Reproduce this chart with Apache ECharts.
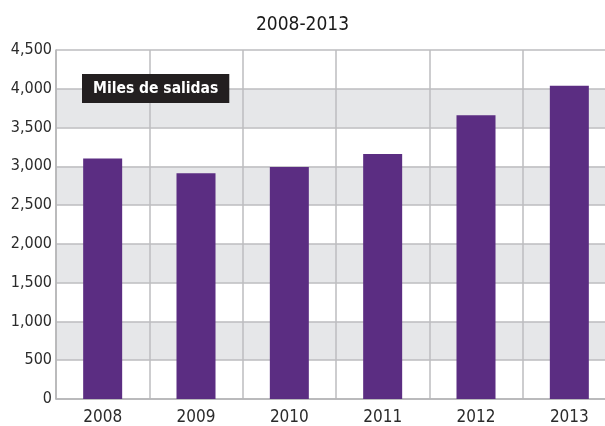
<!DOCTYPE html>
<html>
<head>
<meta charset="utf-8">
<script src="https://cdn.jsdelivr.net/npm/echarts@6/dist/echarts.min.js"></script>
<style>
  html, body { margin: 0; padding: 0; background: #fff; }
  #main { width: 605px; height: 426px; }
</style>
</head>
<body>
<div id="main"></div>
<script>
// datos del gráfico
var years = ['2008', '2009', '2010', '2011', '2012', '2013'];
var salidas = [3100, 2910, 2990, 3160, 3660, 4040];
var seriesName = 'Miles de salidas';
var chartTitle = '2008-2013';

var font = '"DejaVu Sans Condensed", "Liberation Sans Narrow", sans-serif';

var myChart = echarts.init(document.getElementById('main'));

var option = {
	animation: false,
	backgroundColor: '#ffffff',
	title: [{
		text: chartTitle,
		left: 'center',
		top: 11,
		textStyle: {
			fontFamily: font,
			fontSize: 19,
			fontWeight: 'normal',
			color: '#1a1a1a'
		}
	}, {
		// etiqueta negra
		text: seriesName,
		left: 82,
		top: 74,
		padding: [5, 11, 5, 11],
		backgroundColor: '#231f20',
		textStyle: {
			fontFamily: font,
			fontSize: 15.5,
			fontWeight: 'bold',
			color: '#ffffff',
			lineHeight: 19
		}
	}],
	grid: {
		left: 56,
		top: 50,
		width: 560,
		height: 349,
		outerBoundsMode: 'none',
		containLabel: false
	},
	xAxis: {
		type: 'category',
		data: years,
		boundaryGap: true,
		axisLine: { show: true, lineStyle: { color: '#b4b4b6', width: 1.5 } },
		axisTick: { show: false },
		axisLabel: {
			margin: 10,
			fontFamily: font,
			fontSize: 17,
			color: '#2b2b2b'
		},
		splitLine: { show: true, lineStyle: { color: '#bdbdbf', width: 1.5 } }
	},
	yAxis: {
		type: 'value',
		min: 0,
		max: 4500,
		interval: 500,
		axisLine: { show: true, lineStyle: { color: '#b4b4b6', width: 1.5 } },
		axisTick: { show: false },
		axisLabel: {
			margin: 4,
			fontFamily: font,
			fontSize: 16,
			color: '#2b2b2b',
			formatter: function (v) {
				return v.toLocaleString('en-US');
			}
		},
		splitLine: { show: true, lineStyle: { color: '#bdbdbf', width: 1.5 } },
		splitArea: { show: true, areaStyle: { color: ['#ffffff', '#e6e7e9'] } }
	},
	series: [{
		name: seriesName,
		type: 'bar',
		data: salidas,
		barWidth: 39,
		itemStyle: { color: '#5b2d82' }
	}]
};

myChart.setOption(option);
</script>
</body>
</html>
